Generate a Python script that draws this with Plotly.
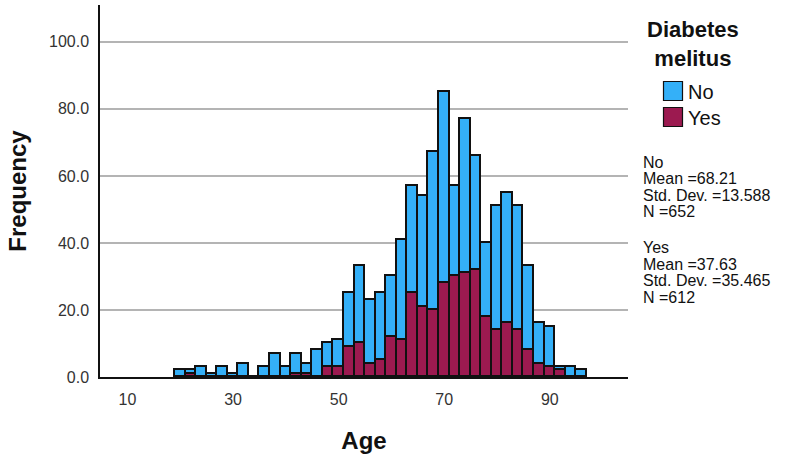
import plotly.graph_objects as go

# Data: 2-year age bins (centres), stacked counts
age_centres = [20 + 2 * i for i in range(39)]
total_counts = [2, 2, 3, 1, 3, 1, 4, 0, 3, 7, 3,
                7, 4, 8, 10, 11, 25, 33, 23, 25, 30, 41,
                57, 54, 67, 85, 57, 77, 66,
                40, 51, 55, 51, 33, 16, 15, 3, 3, 2]
yes_counts = [0, 1, 0, 0, 0, 0, 0, 0, 0, 0, 0,
              1, 1, 0, 3, 3, 9, 10, 4, 5, 12, 11,
              25, 21, 20, 28, 30, 31, 32,
              18, 14, 16, 14, 8, 4, 3, 2, 0, 0]
no_counts = [t - y for t, y in zip(total_counts, yes_counts)]

x_ticks = [10, 30, 50, 70, 90]
y_ticks = [0, 20, 40, 60, 80, 100]

legend_title = "Diabetes<br>melitus"
stats_no = ["No", "Mean =68.21", "Std. Dev. =13.588", "N =652"]
stats_yes = ["Yes", "Mean =37.63", "Std. Dev. =35.465", "N =612"]

BLUE = "#34b0f8"
RED = "#9c1a50"
FONT = "Liberation Sans, Arial, sans-serif"

fig = go.Figure()
fig.add_trace(go.Bar(x=age_centres, y=yes_counts, width=2, name="Yes",
                     marker=dict(color=RED, line=dict(color="#111", width=1.6)),
                     showlegend=False))
fig.add_trace(go.Bar(x=age_centres, y=no_counts, width=2, name="No",
                     marker=dict(color=BLUE, line=dict(color="#111", width=1.6)),
                     showlegend=False))

W, H = 786, 460
L, R, T, B = 100, 158, 5, 83
PW, PH = W - L - R, H - T - B

fig.update_layout(
    width=W, height=H, barmode="stack", bargap=0,
    margin=dict(l=L, r=R, t=T, b=B),
    paper_bgcolor="white", plot_bgcolor="white",
    font=dict(family=FONT, color="#222"),
)
fig.update_xaxes(range=[4.8, 104.8], tickvals=x_ticks, ticktext=[str(v) for v in x_ticks],
                 showgrid=False, zeroline=False, showline=True, linecolor="#111", linewidth=1.5,
                 ticks="", tickfont=dict(size=16, color="#333"), ticklabelstandoff=7,
                 title=dict(text="<b>Age</b>", font=dict(size=24, color="#111"), standoff=25))
fig.update_yaxes(range=[0, 111], tickvals=y_ticks, tickformat=".1f",
                 showgrid=True, gridcolor="#b4b4b4", gridwidth=1.5, zeroline=False,
                 showline=True, linecolor="#111", linewidth=1.5, ticks="",
                 tickfont=dict(size=16, color="#333"), ticklabelstandoff=6,
                 title=dict(text="<b>Frequency</b>", font=dict(size=24, color="#111"), standoff=16))

def px(x):
    return (x - L) / PW

def py(y):
    return 1 - (y - T) / PH

ann = [dict(x=px(693), y=py(43.5), xref="paper", yref="paper", text="<b>%s</b>" % legend_title,
            showarrow=False, xanchor="center", yanchor="middle", align="center",
            font=dict(size=22, color="#111", family=FONT))]
shapes = []
for lab, col, yc in [("No", BLUE, 91), ("Yes", RED, 117)]:
    shapes.append(dict(type="rect", xref="paper", yref="paper",
                       x0=px(663.5), x1=px(682.5), y0=py(yc - 9.5), y1=py(yc + 9.5),
                       fillcolor=col, line=dict(color="#111", width=1.2)))
    ann.append(dict(x=px(686), y=py(yc + 1), xref="paper", yref="paper", text=lab,
                    showarrow=False, xanchor="left", yanchor="middle",
                    font=dict(size=20, color="#111", family=FONT)))
for lines, y0 in [(stats_no, 162), (stats_yes, 247.5)]:
    for i, t in enumerate(lines):
        ann.append(dict(x=px(641), y=py(y0 + i * 16.5), xref="paper", yref="paper", text=t,
                        showarrow=False, xanchor="left", yanchor="middle",
                        font=dict(size=16, color="#111", family=FONT)))
fig.update_layout(annotations=ann, shapes=shapes)

fig.write_html("out.html")
